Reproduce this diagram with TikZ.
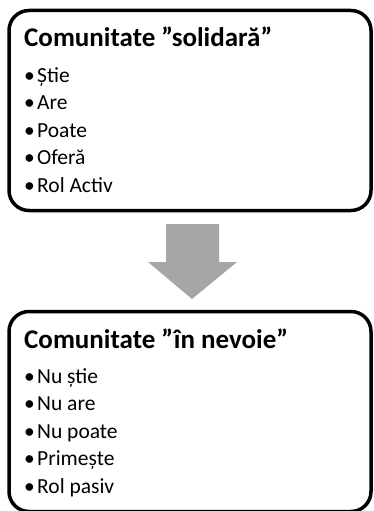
\documentclass[tikz,border=0pt]{standalone}
\usepackage{fontspec}
\setmainfont{Carlito}
\definecolor{arrowgray}{HTML}{A6A6A6}
\tikzset{
  panel/.style={draw=black, line width=3.5pt, rounded corners=20pt, fill=white},
  headline/.style={anchor=base west, inner sep=0pt, font=\bfseries\fontsize{27}{31}\selectfont},
  item/.style={anchor=base west, inner sep=0pt, font=\fontsize{21.5}{26}\selectfont},
}
\newcommand{\bul}[1]{\makebox[13pt][l]{•}#1}
\begin{document}
\begin{tikzpicture}[x=1pt, y=-1pt]
  \useasboundingbox (0,0) rectangle (374,511);

  % upper panel
  \draw[panel] (9,10.5) rectangle (371,210.5);
  \node[headline] (t1) at (24,47) {Comunitate ”solidară”};
  \node[item] (a1) at (24,82)    {\bul{Știe}};
  \node[item] (a2) at (24,109.5) {\bul{Are}};
  \node[item] (a3) at (24,137)   {\bul{Poate}};
  \node[item] (a4) at (24,164.5) {\bul{Oferă}};
  \node[item] (a5) at (24,192)   {\bul{Rol Activ}};

  % block arrow
  \fill[arrowgray] (166,224) -- (219,224) -- (219,262) -- (237,262)
    -- (192,299) -- (148,262) -- (166,262) -- cycle;

  % lower panel
  \draw[panel] (9,311.5) rectangle (371,511.5);
  \node[headline] (t2) at (24,348) {Comunitate ”în nevoie”};
  \node[item] (b1) at (24,383)   {\bul{Nu știe}};
  \node[item] (b2) at (24,410.5) {\bul{Nu are}};
  \node[item] (b3) at (24,438)   {\bul{Nu poate}};
  \node[item] (b4) at (24,465.5) {\bul{Primește}};
  \node[item] (b5) at (24,493)   {\bul{Rol pasiv}};
\end{tikzpicture}
\end{document}
